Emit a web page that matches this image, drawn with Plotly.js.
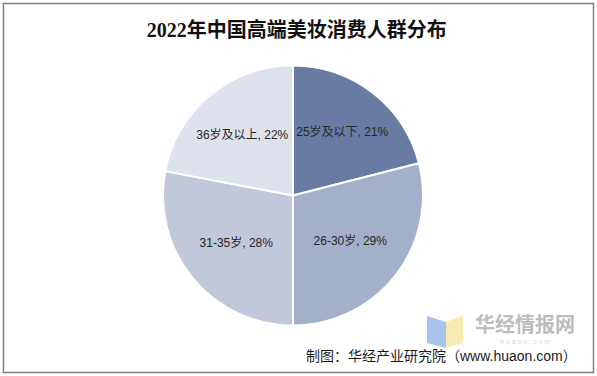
<!DOCTYPE html>
<html>
<head>
<meta charset="utf-8">
<script src="https://cdn.plot.ly/plotly-3.0.1.min.js"></script>
<style>html,body{margin:0;padding:0;background:#fff;}#chart{width:597px;height:376px;}</style>
</head>
<body>
<div id="chart"></div>
<script>
const categories = ["25岁及以下", "26-30岁", "31-35岁", "36岁及以上"];
const shares = [21, 29, 28, 22];
const sliceColors = ["#687ca3", "#a4b0c9", "#c1c8da", "#dee2ec"];
const titleText = "2022年中国高端美妆消费人群分布";
const sourceText = "制图：华经产业研究院（www.huaon.com）";

const W = 597, H = 376;
const px = x => x / W;
const py = y => 1 - y / H;
const cx = 293, cy = 195.5, R = 130;

function pathPx(pts) {
  return "M" + pts.map(p => px(p[0]) + "," + py(p[1])).join(" L") + " Z";
}

const trace = {
  type: "pie",
  labels: categories,
  values: shares,
  sort: false,
  direction: "clockwise",
  rotation: 0,
  marker: {colors: sliceColors, line: {color: "#ffffff", width: 2}},
  texttemplate: "%{label}, %{value}%",
  textposition: "inside",
  insidetextorientation: "horizontal",
  textfont: {family: "Liberation Sans, Arial, Noto Sans CJK SC", size: 12, color: "#262626"},
  hoverinfo: "none",
  domain: {x: [px(cx - R), px(cx + R)], y: [py(cy + R), py(cy - R)]},
  showlegend: false
};

const layout = {
  width: W, height: H,
  margin: {l: 0, r: 0, t: 0, b: 0},
  paper_bgcolor: "#ffffff",
  title: {
    text: titleText,
    font: {family: "Liberation Serif, Times New Roman, Noto Sans CJK SC", size: 20, color: "#111111", weight: 700},
    x: 0.497, xanchor: "center",
    y: py(30), yref: "container", yanchor: "middle"
  },
  shapes: [
    {type: "rect", xref: "paper", yref: "paper", x0: px(3.5), x1: px(593.5), y0: py(372.5), y1: py(3.5),
     line: {color: "#808080", width: 1.5}, fillcolor: "rgba(0,0,0,0)", layer: "above"},
    {type: "path", xref: "paper", yref: "paper", path: pathPx([[427,316],[446,322],[446,348],[427,343]]),
     fillcolor: "#a7c4ee", line: {width: 0}, layer: "below"},
    {type: "path", xref: "paper", yref: "paper", path: pathPx([[446,322],[463,315],[463,343],[446,348]]),
     fillcolor: "#f8eab0", line: {width: 0}, layer: "below"}
  ],
  annotations: [
    {text: "华经情报网", xref: "paper", yref: "paper", x: px(524.5), y: py(323.5), xanchor: "center", yanchor: "middle",
     showarrow: false, borderpad: 0, font: {family: "Noto Sans CJK SC", size: 20, color: "#bdbdbd", weight: 700}},
    {text: "h u a o n . c o m", xref: "paper", yref: "paper", x: px(524.5), y: py(341.5), xanchor: "center", yanchor: "middle",
     showarrow: false, borderpad: 0, font: {family: "Liberation Sans, Arial", size: 7, color: "#d6d6d6"}},
    {text: sourceText, xref: "paper", yref: "paper", x: px(578), y: py(355.5), xanchor: "right", yanchor: "middle",
     showarrow: false, borderpad: 0, font: {family: "Liberation Sans, Noto Sans CJK SC", size: 14, color: "#1a1a1a"}}
  ]
};

Plotly.newPlot("chart", [trace], layout, {displayModeBar: false, staticPlot: true});
</script>
</body>
</html>
